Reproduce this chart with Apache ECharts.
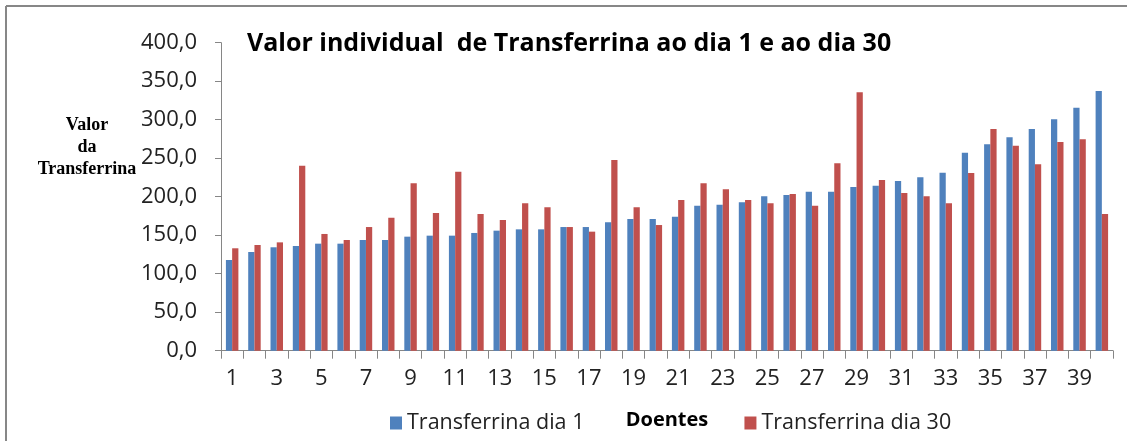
<!DOCTYPE html>
<html>
<head>
<meta charset="utf-8">
<script src="https://cdn.jsdelivr.net/npm/echarts@6/dist/echarts.min.js"></script>
<style>
	html, body { margin: 0; padding: 0; background: #fff; }
	#chart { width: 1127px; height: 441px; }
</style>
</head>
<body>
<div id="chart"></div>
<script>
// dados
var doentes = []
for (var i = 1; i <= 40; i++) doentes.push(String(i))
var dia1 = [117.8, 128.2, 134.3, 136.0, 139.0, 139.0, 143.8, 143.8, 148.1, 149.4,
	149.4, 152.9, 155.9, 157.6, 157.6, 160.6, 160.6, 166.7, 171.0, 171.0,
	174.1, 188.3, 189.6, 192.7, 200.5, 202.2, 206.5, 206.5, 212.6, 214.3,
	220.4, 225.2, 231.2, 257.2, 268.0, 277.1, 287.9, 300.5, 315.6, 337.3]
var dia30 = [133.0, 137.3, 140.7, 240.3, 151.6, 143.8, 160.6, 172.8, 217.4, 178.8,
	232.5, 177.5, 169.7, 191.4, 186.2, 160.6, 154.6, 247.7, 186.2, 163.2,
	195.7, 217.4, 209.6, 195.7, 191.4, 203.5, 188.3, 243.3, 335.6, 221.7,
	204.8, 200.5, 191.4, 230.8, 287.9, 266.2, 242.1, 271.0, 274.5, 177.5]

var fonte = '"Open Sans", sans-serif'
var myChart = echarts.init(document.getElementById('chart'))
myChart.setOption({
	animation: false,
	color: ['#4F81BD', '#C0504D'],
	title: {
		text: 'Valor individual  de Transferrina ao dia 1 e ao dia 30',
		left: 242,
		top: 26,
		textStyle: { fontFamily: fonte, fontSize: 25, fontWeight: 'bold', color: '#000' }
	},
	legend: {
		left: 385,
		top: 407,
		itemWidth: 12,
		itemHeight: 13,
		itemGap: 160,
		icon: 'rect',
		textStyle: { fontFamily: fonte, fontSize: 21.5, color: '#222' }
	},
	grid: { left: 221, right: 14, top: 42.7, bottom: 90.3, outerBoundsMode: 'none' },
	xAxis: {
		type: 'category',
		data: doentes,
		name: 'Doentes',
		nameLocation: 'middle',
		nameGap: 60,
		nameTextStyle: { fontFamily: fonte, fontSize: 20, fontWeight: 'bold', color: '#000' },
		axisLine: { lineStyle: { color: '#868686' } },
		axisTick: { show: true, length: 8, interval: 0, lineStyle: { color: '#868686' } },
		axisLabel: { interval: 1, margin: 17, fontFamily: fonte, fontSize: 22, color: '#222' }
	},
	yAxis: {
		type: 'value',
		min: 0,
		max: 400,
		interval: 50,
		splitLine: { show: false },
		axisLine: { show: true, lineStyle: { color: '#868686' } },
		axisTick: { show: true, length: 6, lineStyle: { color: '#868686' } },
		axisLabel: {
			margin: 24, fontFamily: fonte, fontSize: 22, color: '#222',
			formatter: function (v) { return v.toFixed(1).replace('.', ',') }
		}
	},
	graphic: [
		{ type: 'line', shape: { x1: 6, y1: 6, x2: 1127, y2: 6 }, style: { stroke: '#878787', lineWidth: 2 } },
		{ type: 'line', shape: { x1: 6, y1: 6, x2: 6, y2: 441 }, style: { stroke: '#878787', lineWidth: 2 } },
		{
			type: 'text', x: 87, y: 147,
			style: {
				text: 'Valor\nda\nTransferrina',
				align: 'center', verticalAlign: 'middle', lineHeight: 22,
				font: 'bold 18px "Liberation Serif", serif', fill: '#000'
			}
		}
	],
	series: [
		{ name: 'Transferrina dia 1', type: 'bar', data: dia1, barGap: '0%', barCategoryGap: '44%' },
		{ name: 'Transferrina dia 30', type: 'bar', data: dia30, barGap: '0%', barCategoryGap: '44%' }
	]
})
</script>
</body>
</html>
